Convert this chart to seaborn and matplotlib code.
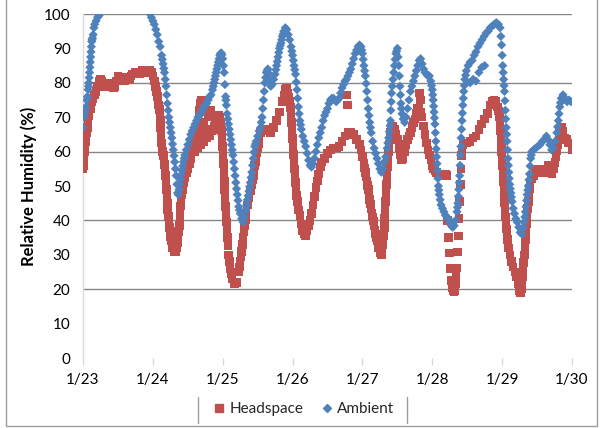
import matplotlib
matplotlib.use("Agg")
import matplotlib.pyplot as plt
from matplotlib.lines import Line2D
from matplotlib.patches import Rectangle
import seaborn as sns
import pandas as pd

# Logger readings: hours elapsed since 1/23 00:00 and relative humidity (%)
amb_hours = [
    0, 0.25, 0.5, 0.75, 1.0, 1.25, 1.5, 1.75, 2.0, 2.25, 2.5, 2.75, 3.0, 3.25, 3.5, 3.75, 4.0, 4.5, 5.0, 5.5, 5.8,
    23.0, 23.5, 24.0, 24.5, 25.0, 25.5, 26.0, 26.5, 27.0, 27.5, 28.0, 28.5, 29.0, 29.5, 30.0, 30.5, 31.0, 31.5, 32.0, 32.5,
    33.0, 33.5, 34.0, 34.5, 35.0, 35.5, 36.0, 36.5, 37.0, 37.5, 38.0, 38.5, 39.0, 39.5, 40.0, 40.5, 41.0, 41.5, 42.0,
    42.5, 43.0, 43.5, 44.0, 44.5, 45.0, 45.5, 46.0, 46.5, 47.0, 47.5,
    48.0, 48.5, 49.0, 49.5, 50.0, 50.5, 51.0, 51.5, 52.0, 52.5, 53.0, 53.5, 54.0, 54.5, 55.0, 55.5,
    56.0, 56.5, 57.0, 57.5, 58.0, 58.5, 59.0, 59.5, 60.0, 60.5, 61.0, 61.5, 62.0, 62.5, 63.0, 63.5, 64.0, 64.5,
    65.0, 65.5, 66.0, 66.5, 67.0, 67.5, 68.0, 68.5, 69.0, 69.5, 70.0, 70.5, 71.0, 71.5, 72.0, 72.5, 73.0, 73.5,
    74.0, 74.5, 75.0, 75.5, 76.0, 76.5, 77.0, 77.5, 78.0, 78.5, 79.0, 79.5, 80.0, 80.5, 81.0, 81.5, 82.0, 82.5,
    83.0, 83.5, 84.0, 84.5, 85.0, 85.5, 86.0, 86.5, 87.0, 87.5, 88.0, 88.5, 89.0, 89.5, 90.0, 90.5, 91.0, 91.5,
    92.0, 92.5, 93.0, 93.5, 94.0, 94.5, 95.0, 95.5, 96.0, 96.5, 97.0, 97.5, 98.0, 98.5, 99.0, 99.5, 100.0, 100.5,
    101.0, 101.5, 102.0, 102.5, 103.0, 103.5, 104.0, 104.5, 105.0, 105.5, 105.75, 106.0, 106.5, 107.0, 107.5,
    108.0, 108.5, 108.9, 109.2, 109.6, 110.0, 110.5, 111.0, 111.5, 112.0, 112.5, 113.0, 113.5, 114.0, 114.5,
    115.0, 115.5, 116.0, 116.5, 117.0, 117.5, 118.0, 118.5, 119.0, 119.5, 120.0, 120.3, 120.6, 120.9, 121.2,
    121.5, 121.8, 122.1, 122.4, 122.7, 123.0, 123.5, 124.0, 124.5, 125.0, 125.5, 126.0, 126.5, 127.0, 127.5,
    128.0, 128.5, 128.8, 129.1, 129.4, 129.7, 129.9, 130.2, 130.5, 130.8, 131.2, 131.7, 132.3, 133.0, 133.7,
    134.4, 135.0, 135.7, 136.4, 137.1, 137.8, 138.5, 139.2, 139.9, 140.6, 141.3, 142.0, 142.7, 143.3, 143.8,
    144.2, 144.5, 144.8, 145.1, 145.4, 145.7, 146.0, 146.3, 146.6, 147.0, 147.4, 147.8, 148.2, 148.7, 149.2,
    149.7, 150.2, 150.8, 151.3, 151.8, 152.2, 152.6, 153.0, 153.4, 153.8, 154.2, 154.8, 155.5, 156.2, 157.0,
    157.8, 158.5, 159.2, 159.8, 160.4, 161.0, 161.6, 162.2, 162.8, 163.3, 163.8, 164.3, 164.9, 165.6, 166.3,
    167.0, 167.7, 168.3,
    133.0, 134.0, 135.0, 136.0, 137.0, 138.0,
    # readings in between, where humidity changed fast
    1.875, 2.125, 2.375, 2.625, 2.875, 3.125,
    27.25, 27.75, 28.25, 28.75, 29.25, 29.75, 30.25, 30.75, 31.25, 31.75, 32.25, 32.75, 33.25, 33.75, 34.25, 34.75,
    44.75, 45.25, 45.75, 46.25, 46.75, 47.25, 47.75, 48.25, 48.75, 49.1, 49.25, 49.75, 50.25, 50.75, 51.25, 51.75,
    52.25, 52.75, 53.25, 53.75,
    56.25, 56.75, 57.25, 57.75, 58.25, 58.75, 59.25, 61.25, 61.75, 62.25, 62.75, 63.25, 63.75, 64.25,
    66.25, 66.75, 67.25, 67.75, 68.25, 68.75,
    71.75, 72.25, 72.75, 73.25, 73.75, 74.25, 74.75,
    95.75, 96.25, 96.75, 97.25, 97.75, 98.25, 98.75,
    104.75, 105.25, 105.6, 105.9, 106.25, 106.75, 107.25, 107.75, 108.25, 108.7, 109.05, 109.4,
    119.75, 120.15, 120.45, 120.75, 121.05, 121.35, 121.65, 121.95, 122.25,
    128.65, 128.95, 129.25, 129.55, 129.8, 130.05, 130.35, 130.65, 131.0, 131.45,
    143.55, 144.0, 144.35, 144.65, 144.95, 145.25, 145.55, 145.85, 146.15, 146.45, 146.8, 147.2,
    151.55, 152.0, 152.4, 152.8, 153.2, 153.6, 154.0,
    163.05, 163.55, 164.05,
]
amb_rh = [
    67, 70, 71, 72, 73, 75, 76, 78, 80, 83, 86, 89, 92, 93, 94, 96, 97, 98, 99, 99.5, 100,
    100, 99, 98, 97, 95.5, 94, 92, 90.5, 88, 85.5, 83, 79, 74, 70, 67, 64, 60.5, 57, 53, 48,
    49, 52, 54.5, 57, 59, 60.5, 62, 63.5, 65, 66, 67, 68, 69, 70, 70.5, 71, 72, 73, 73.5,
    74, 75, 76, 76.5, 78, 80, 82, 84, 86, 88, 88.7,
    87, 83, 76, 71, 68, 65, 62, 59, 55, 51, 47.5, 44, 42, 40.5, 39.5, 41,
    43, 46, 48.5, 51, 54, 58, 61.5, 63, 64.5, 66, 67, 70, 75, 80, 83, 84, 81.5, 79,
    79.5, 81, 82.5, 85, 87.5, 90, 91.5, 93.5, 95, 96, 95.5, 94, 92.5, 90.5, 88, 85, 82.5, 78,
    73, 69, 66.5, 64.5, 63, 61.5, 59.5, 57.5, 56, 55.5, 56.5, 58, 60, 62, 64, 65.5, 67, 69,
    70.5, 71.5, 72.5, 74, 75, 75.5, 75.5, 75, 74.5, 75, 75.5, 77, 78.5, 79.5, 80.5, 81, 82, 83,
    84, 85.5, 87, 88.5, 89.5, 90.5, 91, 90.5, 88.5, 85, 82, 77.5, 72.5, 68.5, 65.5, 63, 61, 59.5,
    58, 56.5, 55, 54, 55, 57, 58.5, 61, 64, 67.5, 72, 77, 81, 85, 88.5,
    90, 85, 79, 74, 71, 69.5, 68.5, 70, 72.5, 75, 77.5, 79, 80.5, 82, 83.5,
    85, 86.5, 87, 85.5, 84, 83, 82.5, 82, 82, 80.5, 78, 75, 71.5, 68, 63,
    58.5, 54.5, 50, 47.5, 46, 44.5, 43.5, 42.5, 41.5, 41, 40.5, 39.5, 38.5, 38, 38.5,
    40, 42.5, 45, 49, 53, 59, 64, 69, 73.5, 77.5, 81, 83.5, 85, 86, 86.5,
    88, 89, 90.5, 91.5, 92.5, 93.5, 94.5, 95, 96, 96.5, 97, 97.5, 97, 96, 91,
    85, 81, 77.5, 72, 67, 63, 58, 54, 50.5, 48, 45.5, 43.5, 42, 40.5, 39.5,
    38, 36.5, 36, 38, 41, 44, 47.5, 50, 53.5, 58, 60, 60.5, 61, 61.5, 62,
    63, 63.5, 64.5, 63.5, 62, 60.5, 61, 63, 65.5, 69, 73, 75.5, 76.5, 75.5, 74.5,
    75, 74.5, 74.5,
    80, 81, 80.5, 83, 84.5, 85,
    79, 81.5, 84.5, 87.5, 90.5, 92.5,
    86.8, 84.2, 81, 76.5, 72, 68.5, 65.5, 62.2, 58.8, 55, 50.5, 47.5, 50.5, 53.2, 55.8, 58,
    79, 81, 83, 85, 87, 88.5, 88.2, 85, 79.5, 75, 73.5, 69.5, 66.5, 63.5, 60.5, 57,
    53, 49.2, 45.8, 43,
    44.5, 47.2, 49.8, 52.5, 56, 59.8, 62.2, 68.5, 72.5, 77.5, 81.5, 83.5, 82.8, 80.2,
    83.8, 86.2, 88.8, 90.8, 92.5, 94.2,
    89.2, 86.5, 83.8, 80.2, 75.5, 71, 67.8,
    89.5, 86.8, 83.5, 79.8, 75, 70.5, 67,
    62.5, 65.8, 69, 74.5, 79, 83, 86.8, 89.2, 87.5, 82, 76.5, 72.5,
    79.2, 76.5, 73.2, 69.8, 65.5, 60.8, 56.5, 52.2, 48.8,
    43.8, 47, 51, 56, 61.5, 66.5, 71.2, 75.5, 79.2, 82.2,
    93.5, 88, 83, 79.2, 74.8, 69.5, 65, 60.5, 56, 52.2, 49.2, 46.8,
    39.5, 42.5, 45.8, 48.8, 51.8, 55.8, 59,
    67.2, 71, 74.2,
]

head_hours = [
    0, 0.25, 0.5, 0.75, 1.0, 1.25, 1.5, 1.75, 2.0, 2.5, 3.0, 3.5, 4.0, 4.5, 5.0, 5.5, 6.0, 6.5, 7.0, 7.5,
    8.0, 8.5, 9.0, 9.5, 10.0, 10.5, 11.0, 11.5, 12.0, 12.5, 13.0, 13.5, 14.0, 14.5, 15.0, 15.5, 16.0, 16.5,
    17.0, 17.5, 18.0, 18.5, 19.0, 19.5, 20.0, 20.5, 21.0, 21.5, 22.0, 22.5, 23.0, 23.5, 24.0, 24.5, 25.0,
    25.5, 26.0, 26.4, 26.7, 27.0, 27.4, 27.8, 28.2, 28.5, 28.8, 29.1, 29.5, 29.9, 30.3, 30.8, 31.3, 31.8,
    32.3, 32.7, 33.1, 33.4, 33.7, 34.1, 34.6, 35.1, 35.6, 36.1, 36.6, 37.1, 37.6, 38.1, 38.6, 39.1, 39.6,
    40.1, 40.6, 41.1, 41.6, 42.1, 42.6, 43.1, 43.6, 44.1, 44.6, 45.1, 45.6, 46.1, 46.6, 47.0, 47.4, 47.8,
    48.1, 48.4, 48.7, 49.0, 49.3, 49.6, 50.0, 50.5, 51.2, 52.0, 52.8, 53.5, 54.0, 54.5, 55.0, 55.5, 56.0,
    56.5, 57.0, 57.5, 58.0, 58.5, 59.0, 59.5, 60.0, 60.5, 61.0, 61.5, 62.5, 63.5, 64.5, 65.5, 66.5, 67.5,
    68.5, 69.0, 69.5, 70.0, 70.5, 71.0, 71.4, 71.8, 72.2, 72.5, 72.8, 73.2, 73.6, 74.0, 74.5, 75.0, 75.5,
    76.0, 76.5, 77.0, 77.5, 78.0, 78.5, 79.0, 79.5, 80.0, 80.5, 81.0, 81.5, 82.0, 83.0, 84.0, 85.0, 86.0,
    87.0, 88.0, 89.0, 90.0, 91.0, 92.0, 93.0, 94.0, 95.0, 95.5, 96.0, 96.5, 97.0, 97.5, 98.0, 98.5, 99.0,
    99.5, 100.0, 100.5, 101.0, 101.5, 102.0, 102.5, 103.0, 103.5, 103.8, 104.1, 104.4, 104.8, 105.2, 105.6,
    106.0, 106.5, 107.0, 107.5, 108.0, 108.5, 109.0, 109.5, 110.0, 110.5, 111.0, 111.5, 112.0, 112.5, 113.0,
    113.5, 114.0, 114.5, 115.0, 115.5, 116.0, 116.5, 117.0, 117.5, 118.0, 118.5, 119.0, 119.5, 120.0, 120.5,
    121.0, 121.5, 122.0, 122.5, 123.0, 123.5, 124.0, 124.5, 125.0,
    125.3, 125.6, 125.9, 126.2, 126.5, 126.8, 127.1, 127.4, 127.7, 128.0, 128.2, 128.35, 128.65, 128.95,
    129.2, 129.4, 129.6, 129.8, 130.05,
    130.2, 130.6, 131.2, 132.0, 133.0, 134.0, 135.0, 136.0, 137.0, 138.0, 139.0, 140.0, 140.6, 141.2,
    141.8, 142.4, 143.0, 143.4, 143.7, 144.0, 144.3, 144.6, 144.9, 145.2, 145.5, 145.8, 146.2, 146.7, 147.2,
    147.8, 148.4, 149.0, 149.5, 150.0, 150.4, 150.8, 151.2, 151.6, 152.0, 152.4, 152.8, 153.2, 153.6, 154.1,
    154.8, 155.5, 156.2, 156.9, 157.6, 158.3, 159.0, 159.7, 160.4, 161.1, 161.8, 162.5, 163.2, 163.8, 164.3,
    164.9, 165.5, 166.1, 166.7, 167.3, 168.0,
    40.0, 40.4, 40.8, 41.3, 43.0, 43.5, 44.0, 90.5, 90.8, 115.7, 115.9,
    38.5, 39.5, 40.5, 41.5, 42.5, 43.5,
    # readings in between, where humidity changed fast
    0.125, 0.375, 0.625, 0.875,
    25.25, 25.75, 26.2, 26.55, 26.85, 27.2, 27.6, 28.0, 28.35, 28.65, 28.95, 29.3, 29.7, 30.1, 30.55,
    32.5, 32.9, 33.25, 33.55, 33.9,
    47.6, 47.95, 48.25, 48.55, 48.85, 49.15, 49.45, 49.8, 50.25, 50.85, 53.75, 54.25, 54.75, 55.25, 55.75,
    58.25, 58.75, 59.25, 59.75, 60.25,
    70.75, 71.2, 71.6, 72.0, 72.35, 72.65, 72.95, 73.4, 73.8,
    96.75, 97.25, 97.75, 98.25, 98.75, 99.25, 99.75, 100.25, 100.75, 102.75, 103.25, 103.65, 103.95, 104.25,
    104.6, 105.0, 105.4,
    142.7, 143.2, 143.55, 143.85, 144.15, 144.45, 144.75, 145.05, 145.35, 145.65, 146.0,
    149.75, 150.6, 151.0, 151.4, 151.8, 152.2, 152.6, 153.0, 153.4,
    162.15, 162.85, 163.5,
]
head_rh = [
    55, 57, 60, 62, 64, 65.5, 67, 68.5, 70.5, 72.5, 74.5, 75.5, 76.5, 77.5, 79, 80.5, 81, 80.5, 80, 79,
    79.5, 80, 79.5, 79, 79, 78.5, 79, 80.5, 82, 81.5, 81, 81.5, 81, 80.5, 81, 81.5, 81, 82,
    82.5, 82.5, 83, 83, 83, 82.5, 83, 83.5, 83, 83, 83.5, 83.5, 83.5, 83, 82, 80.5, 79,
    76, 73.5, 71, 67, 62.5, 60, 57.5, 55, 51, 47, 43, 39.5, 36.5, 34, 32, 31, 31,
    32, 35, 38.5, 42.5, 46, 49, 51, 52.5, 54, 55, 56.5, 58, 60, 61.5, 63, 64.5, 65.5,
    66.5, 67.5, 68.5, 68, 66.5, 65.5, 65.5, 65.5, 66, 66.5, 67.5, 69, 70, 70.5, 70, 68.5, 64,
    59, 54, 49, 44, 39.5, 35, 30, 26, 23, 21.5, 22, 25, 28, 31, 35, 38.5, 42,
    44.5, 46.5, 48.5, 50.5, 53, 56, 58.5, 61, 63.5, 65.5, 66.5, 66.5, 66, 65.5, 67, 69, 71.5,
    74.5, 76.5, 78, 78.5, 77, 74.5, 71, 66, 61.5, 57, 53, 49, 45.5, 43, 41.5, 39, 37,
    36, 35.5, 37, 38.5, 40, 42, 44.5, 47, 49.5, 51.5, 53.5, 55.5, 57, 58, 59.5, 60.5, 61,
    61, 61.5, 63, 64.5, 65.5, 65.5, 65, 63.5, 62, 60.5, 58.5, 56.5, 54, 51.5, 49, 46, 43.5,
    41, 38.5, 36, 34, 32, 30.5, 30, 33, 38, 43, 48, 53, 58, 62, 65.5,
    67, 67.5, 66.5, 65, 63.5, 61, 59, 57.5, 58, 60, 62, 63.5, 64.5, 65.5, 67,
    68.5, 69.5, 71, 72.5, 72.5, 71.5, 70, 67.5, 65, 62.5, 60.5, 59, 57.5, 56, 55,
    54.5, 54, 53.5, 53, 53, 53, 53, 53.5, 53,
    40, 35, 30.5, 26, 22.5, 20.5, 19.5, 19.2, 19.5, 21.5, 24, 26.2, 30.8, 35.5,
    40.5, 45.5, 50.5, 55, 58.8,
    60.5, 62, 62.5, 62.5, 63, 64, 64.5, 66.5, 68, 69.5, 71, 73.5, 74.5, 75,
    74.5, 73, 70, 66, 62, 58, 53.5, 49, 45, 41, 37.5, 34.5, 32, 30, 28,
    26.5, 25, 23.5, 21.5, 19.5, 19, 21.5, 25.5, 30, 34.5, 39, 43.5, 47.5, 50.5, 52,
    53, 54, 55, 55, 54.5, 54, 55, 56, 55, 53.5, 55, 58.5, 62, 65.5, 67,
    66, 64, 63.5, 62.5, 62.5, 60.5,
    72, 74, 75, 73.5, 71, 70, 72, 76.5, 73.5, 77, 75,
    60, 61, 62, 63, 64, 64.5,
    56, 58.5, 61, 63,
    77.5, 74.8, 72.2, 69, 64.8, 61.2, 58.8, 56.2, 53, 49, 45, 41.2, 38, 35.2, 33,
    33.5, 36.8, 40.5, 44.2, 47.5,
    66.2, 61.5, 56.5, 51.5, 46.5, 41.8, 37.2, 32.5, 28, 24.5, 26.5, 29.5, 33, 36.8, 40.2,
    51.8, 54.5, 57.2, 59.8, 62.2,
    75.8, 72.8, 68.5, 63.8, 59.2, 55, 51, 47.2, 44.2,
    55.2, 52.8, 50.2, 47.5, 44.8, 42.2, 39.8, 37.2, 35, 31.5, 35.5, 40.5, 45.5, 50.5,
    55.5, 60, 63.8,
    71.8, 68, 64, 60, 55.8, 51.2, 47, 43, 39.2, 36, 33.2,
    20.5, 20, 23.5, 27.8, 32.2, 36.8, 41.2, 45.5, 49.2,
    56.8, 60.2, 63.8,
]

day_labels = ["1/23", "1/24", "1/25", "1/26", "1/27", "1/28", "1/29", "1/30"]
series_names = ["Headspace", "Ambient"]

df = pd.concat([
    pd.DataFrame({"day": [h / 24 for h in head_hours], "rh": head_rh, "series": series_names[0]}),
    pd.DataFrame({"day": [h / 24 for h in amb_hours], "rh": amb_rh, "series": series_names[1]}),
], ignore_index=True)

sns.set_theme(style="white")
plt.rcParams["font.family"] = ["Lato", "DejaVu Sans"]

red = "#C0504D"
blue = "#4F81BD"

fig = plt.figure(figsize=(6.05, 4.28), dpi=100)
ax = fig.add_axes([83 / 605, 1 - 358 / 428, (572 - 83) / 605, (358 - 14) / 428])

# horizontal guides every 20 %
for g in [20, 40, 60, 80, 100]:
    ax.axhline(g, color="#868686", lw=1.0, zorder=0)

sns.scatterplot(
    data=df, x="day", y="rh", hue="series", style="series",
    hue_order=series_names, style_order=series_names,
    palette=[red, blue], markers=["s", "D"],
    size="series", sizes={"Headspace": 38, "Ambient": 22},
    linewidth=0, edgecolor="none", legend=False, ax=ax, zorder=3,
)

ax.set_xlim(0, 7)
ax.set_ylim(0, 100)
ax.set_xticks(range(len(day_labels)))
ax.set_xticklabels(day_labels)
ax.set_yticks(range(0, 101, 10))
ax.set_xlabel("")
ax.set_ylabel("Relative Humidity (%)", fontsize=12, fontweight="bold", color="black")
ax.yaxis.set_label_coords(-0.094, 0.5)

for side in ["top", "right", "bottom"]:
    ax.spines[side].set_visible(False)
ax.spines["left"].set_color("#D9D9D9")
ax.spines["left"].set_linewidth(1.0)
ax.tick_params(axis="x", length=5, width=1, color="#D9D9D9", direction="out", pad=6,
               labelsize=11, labelcolor="black", bottom=True)
ax.tick_params(axis="y", length=0, pad=9, labelsize=11, labelcolor="black")

# legend underneath the plot
handles = [
    Line2D([], [], marker="s", color=red, linestyle="none", markersize=5.5),
    Line2D([], [], marker="D", color=blue, linestyle="none", markersize=4.5),
]
fig.legend(handles, series_names, loc="center", bbox_to_anchor=(303 / 605, 1 - 409 / 428),
           ncol=2, frameon=False, fontsize=11, handletextpad=0.2, columnspacing=1.0,
           handlelength=1.0)
for xp in (198, 407):
    fig.add_artist(Line2D([xp / 605, xp / 605], [1 - 397 / 428, 1 - 423 / 428],
                          color="#9E9E9E", lw=1.0))

# chart border
fig.add_artist(Rectangle((6 / 605, 1 - 426 / 428), (597 - 6) / 605, 430 / 428,
                         fill=False, edgecolor="#9E9E9E", lw=1.0))

fig.savefig("out.png", dpi=100)
